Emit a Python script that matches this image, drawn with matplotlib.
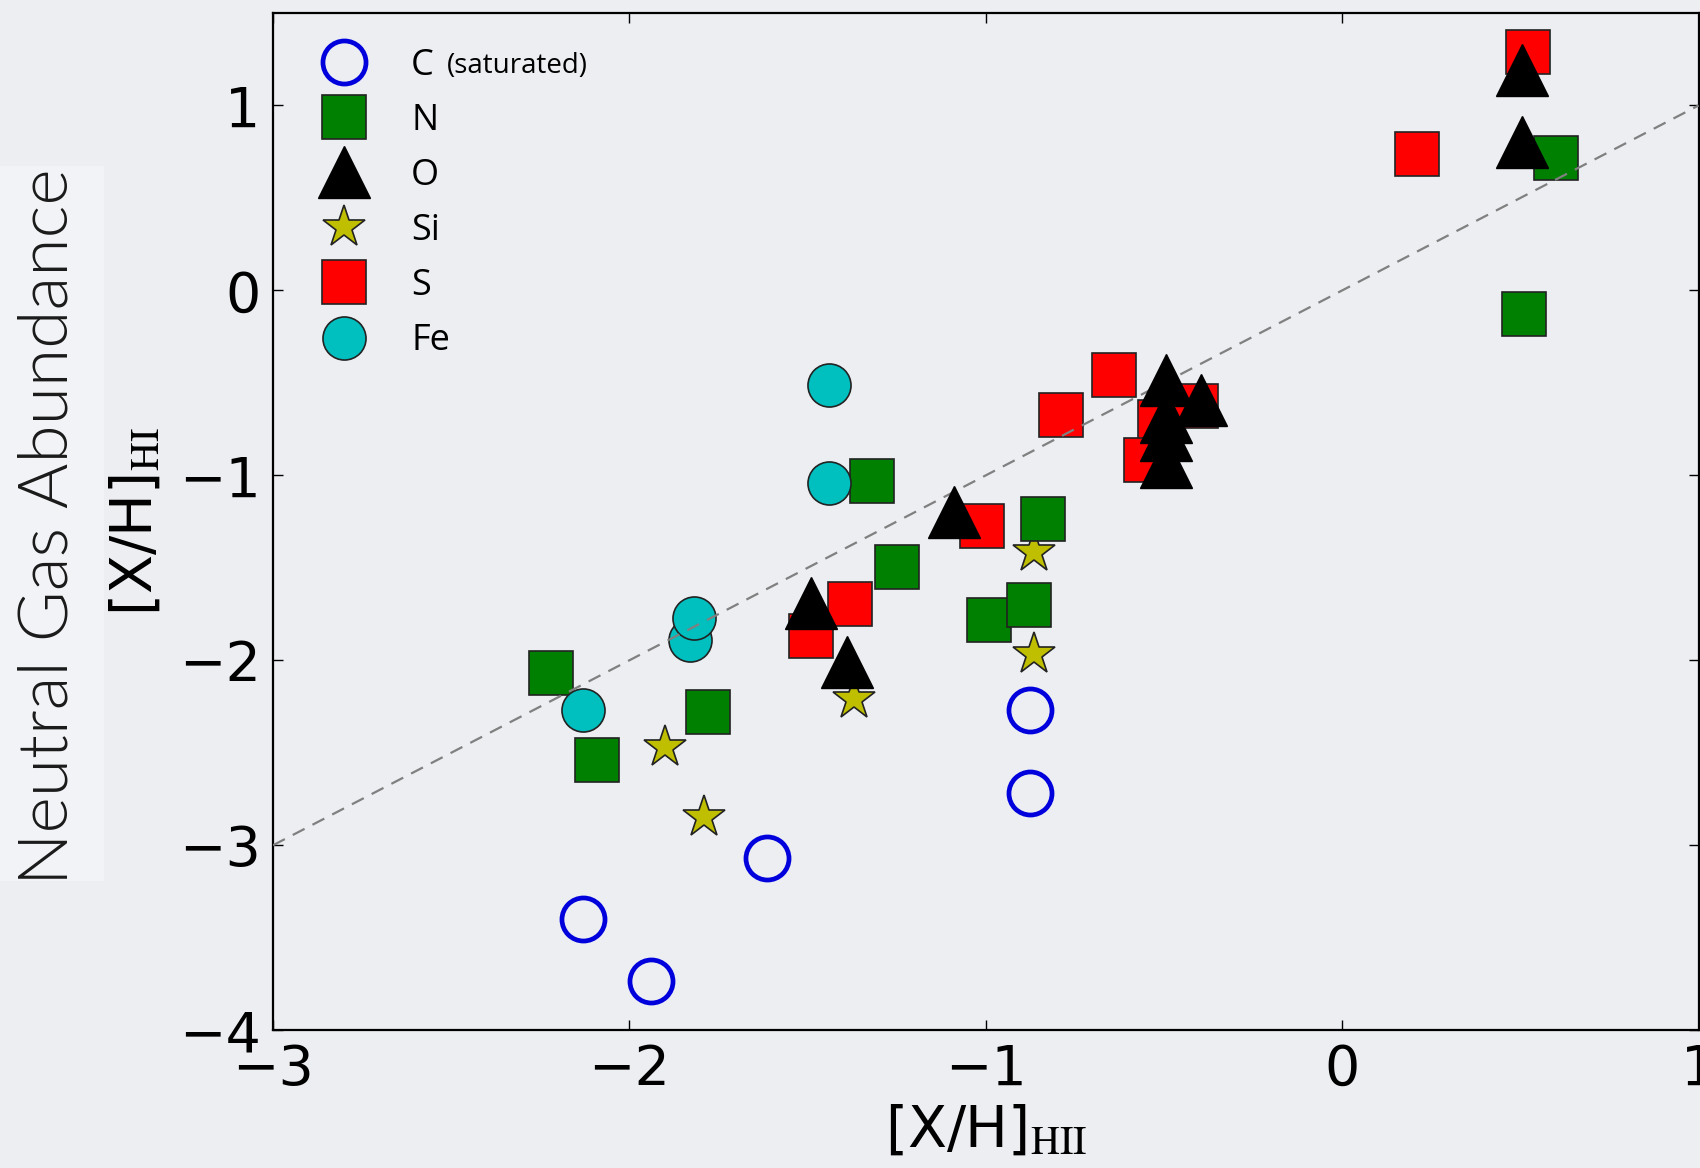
import matplotlib
matplotlib.use("Agg")
import matplotlib.pyplot as plt
from matplotlib.patches import Rectangle

plt.rcParams['mathtext.fontset'] = 'stix'

# element abundances, [X/H]_HII vs [X/H]_HI
C_x = [-2.13, -1.94, -1.615, -0.875, -0.875]
C_y = [-3.40, -3.735, -3.07, -2.27, -2.72]

N_x = [-2.22, -2.09, -1.78, -1.32, -1.25, -0.99, -0.88, -0.84, 0.60, 0.51]
N_y = [-2.07, -2.54, -2.28, -1.03, -1.495, -1.78, -1.70, -1.235, 0.715, -0.13]

O_x = [-1.49, -1.39, -1.09, -0.495, -0.395, -0.495, -0.495, -0.495, 0.505, 0.505]
O_y = [-1.69, -2.01, -1.20, -0.485, -0.59, -0.685, -0.78, -0.93, 1.19, 0.80]

Si_x = [-1.90, -1.79, -1.37, -0.865, -0.865]
Si_y = [-2.47, -2.845, -2.21, -1.415, -1.965]

S_x = [-1.49, -1.38, -1.01, -0.79, -0.64, -0.51, -0.55, -0.41, 0.21, 0.52]
S_y = [-1.87, -1.695, -1.275, -0.675, -0.455, -0.71, -0.915, -0.625, 0.74, 1.29]

Fe_x = [-2.13, -1.83, -1.82, -1.44, -1.44]
Fe_y = [-2.27, -1.89, -1.77, -1.04, -0.51]

one_to_one = [-3, 1]

bg = '#eceef2'
fig = plt.figure(figsize=(17, 11.68), dpi=100, facecolor=bg)
fig.patches.append(Rectangle((0, 1 - 880 / 1168), 103 / 1700, (880 - 166) / 1168,
                             transform=fig.transFigure, color='#f2f3f6', zorder=0))
ax = fig.add_axes([0.1606, 0.118, 0.8386, 0.8709])
ax.set_facecolor('none')

ax.plot(C_x, C_y, 'o', ms=31, mfc='none', mec='#0000dd', mew=3.4, label='C', zorder=3)
ax.plot(N_x, N_y, 's', ms=32, mfc='g', mec='#222222', mew=1.2, label='N', zorder=4)
ax.plot(O_x, O_y, '^', ms=37, mfc='k', mec='k', mew=1, label='O', zorder=8)
ax.plot(Si_x, Si_y, '*', ms=32, mfc='y', mec='#222222', mew=1.2, label='Si', zorder=3.5)
ax.plot(S_x, S_y, 's', ms=32, mfc='r', mec='#222222', mew=1.2, label='S', zorder=5)
ax.plot(Fe_x, Fe_y, 'o', ms=31, mfc='c', mec='#222222', mew=1.2, label='Fe', zorder=4.5)
ax.plot(one_to_one, one_to_one, '--', color='gray', lw=1.6, dashes=(6, 4), zorder=6)

ax.set_xlim(-3, 1)
ax.set_ylim(-4, 1.5)
ax.set_xticks([-3, -2, -1, 0, 1])
ax.set_yticks([-4, -3, -2, -1, 0, 1])
ax.tick_params(direction='in', length=7, width=1, top=True, right=True,
               labelsize=40, pad=9)
for sp in ax.spines.values():
    sp.set_linewidth(1.6)

ax.set_xlabel(r'[X/H]$_\mathrm{HII}$', fontsize=41)
ax.xaxis.set_label_coords(0.5, -0.072)
ax.set_ylabel(r'[X/H]$_\mathrm{HI}$', fontsize=41)
ax.yaxis.set_label_coords(-0.077, 0.5)

fig.text(49 / 1700, 1 - 527 / 1168, 'Neutral Gas Abundance', rotation=90,
         ha='center', va='center', fontsize=50, family='Lato', weight=300,
         color='#1a1a1a')

leg = ax.legend(loc='upper left', bbox_to_anchor=(0.0267, 0.966), frameon=False,
                numpoints=1, labelspacing=0.53, handlelength=1.85,
                handletextpad=0.92, borderpad=0, borderaxespad=0,
                prop={'family': 'Open Sans', 'size': 26})
fig.canvas.draw()
bb = leg.get_texts()[0].get_window_extent()
fig.text((bb.x1 + 13) / fig.bbox.width, (bb.y0 + bb.y1) / 2 / fig.bbox.height,
         '(saturated)', ha='left', va='center', fontsize=20, family='Open Sans')

fig.savefig('out.png', dpi=100, facecolor=bg)
